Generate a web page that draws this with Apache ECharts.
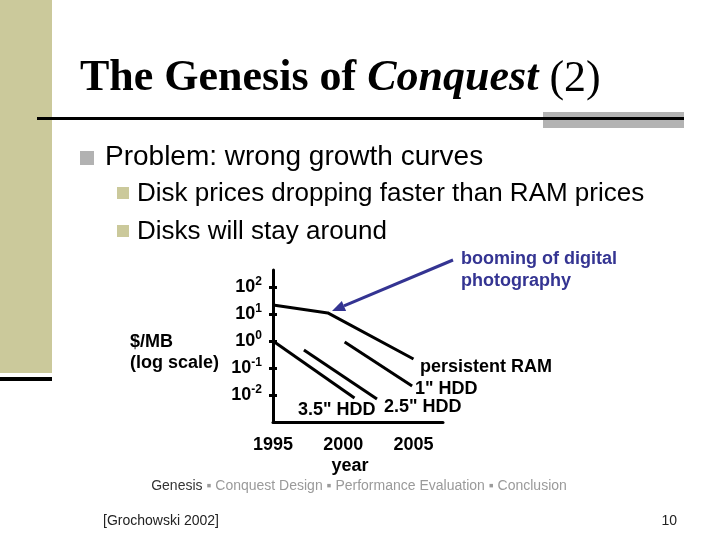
<!DOCTYPE html>
<html><head><meta charset="utf-8">
<script src="https://cdn.jsdelivr.net/npm/echarts@6/dist/echarts.min.js"></script>
<style>html,body{margin:0;padding:0;background:#fff}#c{width:720px;height:540px}</style>
</head><body><div id="c"></div>
<script>
// ---- data ----
const xTicks = [1995, 2000, 2005];
const yTickValues = [0.01, 0.1, 1, 10, 100];
const persistentRAM = [[1995, 21.5], [1998.9, 11], [2005, 0.215]];
const hdd1 = [[2000.1, 0.92], [2004.9, 0.0215]];
const hdd25 = [[1997.2, 0.46], [2002.4, 0.0071]];
const hdd35 = [[1995, 1.0], [2000.8, 0.0078]];
const seriesNames = ['persistent RAM', '1" HDD', '2.5" HDD', '3.5" HDD'];

const SANS = '"Liberation Sans", Arial, sans-serif';
const SERIF = '"Liberation Serif", "Times New Roman", serif';

const chart = echarts.init(document.getElementById('c'), null, {renderer: 'canvas'});

function lineSeries(name, data) {
  return {
    name: name, type: 'line', data: data, showSymbol: false, symbol: 'none',
    lineStyle: {color: '#000', width: 3}, silent: true, animation: false
  };
}

function supLabel(v) {
  const e = Math.round(Math.log10(v));
  return '{b|10}{s|' + e + '}';
}

const arrowColor = '#343492';
const tip = [332, 311], start = [453, 260];
const dx = tip[0] - start[0], dy = tip[1] - start[1];
const L = Math.sqrt(dx * dx + dy * dy);
const ux = dx / L, uy = dy / L, nx = -uy, ny = ux;
const hl = 13, hw = 5.5;
const base = [tip[0] - hl * ux, tip[1] - hl * uy];
const BF = 18;

const option = {
  backgroundColor: '#fff',
  animation: false,
  grid: {left: 273, right: 277, top: 270, bottom: 118, containLabel: false},
  xAxis: {
    type: 'value', min: 1995, max: 2007.1,
    axisLine: {show: true, lineStyle: {color: '#000', width: 3}},
    axisTick: {show: false},
    splitLine: {show: false},
    axisLabel: {customValues: xTicks, formatter: function (v) { return String(Math.round(v)); },
      color: '#000', fontFamily: SANS, fontWeight: 'bold', fontSize: BF, margin: 14}
  },
  yAxis: [{
    type: 'log', logBase: 10, min: 0.001, max: 427,
    axisLine: {show: true, lineStyle: {color: '#000', width: 3}},
    axisTick: {show: true, customValues: yTickValues, length: 4, lineStyle: {color: '#000', width: 3}},
    splitLine: {show: false},
    axisLabel: {
      customValues: yTickValues, margin: 11, formatter: supLabel,
      rich: {
        b: {fontFamily: SANS, fontWeight: 'bold', fontSize: BF, color: '#000'},
        s: {fontFamily: SANS, fontWeight: 'bold', fontSize: 12, color: '#000', padding: [0, 0, 10, 0]}
      }
    }
  }, {
    type: 'log', logBase: 10, min: 0.001, max: 427, position: 'left',
    axisLine: {show: false},
    axisTick: {show: true, inside: true, customValues: yTickValues, length: 4, lineStyle: {color: '#000', width: 3}},
    axisLabel: {show: false},
    splitLine: {show: false}
  }],
  series: [
    lineSeries(seriesNames[0], persistentRAM),
    lineSeries(seriesNames[1], hdd1),
    lineSeries(seriesNames[2], hdd25),
    lineSeries(seriesNames[3], hdd35)
  ],
  graphic: [
    // left olive bar
    {type: 'rect', shape: {x: 0, y: 0, width: 52, height: 373}, style: {fill: '#cbc99b'}, silent: true},
    {type: 'rect', shape: {x: 0, y: 377, width: 52, height: 4}, style: {fill: '#000'}, silent: true},
    // title underline
    {type: 'rect', shape: {x: 543, y: 112, width: 141, height: 16}, style: {fill: '#b3b3b3'}, silent: true},
    {type: 'rect', shape: {x: 37, y: 117, width: 647, height: 3}, style: {fill: '#000'}, silent: true},
    // title
    {type: 'text', left: 80, top: 57, silent: true, style: {
      text: '{n|The Genesis of }{i|Conquest}{r| (2)}',
      rich: {
        n: {fontFamily: SERIF, fontWeight: 'bold', fontSize: 44, fill: '#000'},
        i: {fontFamily: SERIF, fontWeight: 'bold', fontStyle: 'italic', fontSize: 44, fill: '#000'},
        r: {fontFamily: SERIF, fontSize: 44, fill: '#000'}
      }
    }},
    // bullets
    {type: 'rect', shape: {x: 80, y: 151, width: 14, height: 14}, style: {fill: '#b2b2b2'}, silent: true},
    {type: 'text', x: 105, y: 157, silent: true, style: {text: 'Problem: wrong growth curves', fontFamily: SANS, fontSize: 28, fill: '#000', textVerticalAlign: 'middle'}},
    {type: 'rect', shape: {x: 117, y: 187, width: 12, height: 12}, style: {fill: '#cbc99b'}, silent: true},
    {type: 'text', x: 137, y: 194, silent: true, style: {text: 'Disk prices dropping faster than RAM prices', fontFamily: SANS, fontSize: 26, fill: '#000', textVerticalAlign: 'middle'}},
    {type: 'rect', shape: {x: 117, y: 225, width: 12, height: 12}, style: {fill: '#cbc99b'}, silent: true},
    {type: 'text', x: 137, y: 232, silent: true, style: {text: 'Disks will stay around', fontFamily: SANS, fontSize: 26, fill: '#000', textVerticalAlign: 'middle'}},
    // axis names
    {type: 'text', x: 130, y: 332, silent: true, style: {text: '$/MB\n(log scale)', fontFamily: SANS, fontWeight: 'bold', fontSize: BF, lineHeight: 21, fill: '#000'}},
    {type: 'text', x: 350, y: 466, silent: true, style: {text: 'year', fontFamily: SANS, fontWeight: 'bold', fontSize: BF, fill: '#000', textAlign: 'center', textVerticalAlign: 'middle'}},
    // series labels
    {type: 'text', x: 420, y: 367, silent: true, style: {text: seriesNames[0], fontFamily: SANS, fontWeight: 'bold', fontSize: BF, fill: '#000', textVerticalAlign: 'middle'}},
    {type: 'text', x: 415, y: 389, silent: true, style: {text: seriesNames[1], fontFamily: SANS, fontWeight: 'bold', fontSize: BF, fill: '#000', textVerticalAlign: 'middle'}},
    {type: 'text', x: 384, y: 407, silent: true, style: {text: seriesNames[2], fontFamily: SANS, fontWeight: 'bold', fontSize: BF, fill: '#000', textVerticalAlign: 'middle'}},
    {type: 'text', x: 298, y: 410, silent: true, style: {text: seriesNames[3], fontFamily: SANS, fontWeight: 'bold', fontSize: BF, fill: '#000', textVerticalAlign: 'middle'}},
    // annotation
    {type: 'text', x: 461, y: 248, silent: true, style: {text: 'booming of digital\nphotography', fontFamily: SANS, fontWeight: 'bold', fontSize: BF, lineHeight: 22, fill: arrowColor}},
    {type: 'line', silent: true, shape: {x1: start[0], y1: start[1], x2: base[0], y2: base[1]}, style: {stroke: arrowColor, lineWidth: 3}},
    {type: 'polygon', silent: true, shape: {points: [tip, [base[0] + hw * nx, base[1] + hw * ny], [base[0] - hw * nx, base[1] - hw * ny]]}, style: {fill: arrowColor}},
    // footer
    {type: 'text', x: 359, y: 486, silent: true, style: {
      text: '{a|Genesis}{c| ▪ Conquest Design ▪ Performance Evaluation ▪ Conclusion}',
      textAlign: 'center', textVerticalAlign: 'middle',
      rich: {
        a: {fontFamily: SANS, fontSize: 14, fill: '#333'},
        c: {fontFamily: SANS, fontSize: 14, fill: '#9a9a9a'}
      }
    }},
    {type: 'text', x: 103, y: 521, silent: true, style: {text: '[Grochowski 2002]', fontFamily: SANS, fontSize: 14, fill: '#222', textVerticalAlign: 'middle'}},
    {type: 'text', x: 677, y: 521, silent: true, style: {text: '10', fontFamily: SANS, fontSize: 14, fill: '#222', textAlign: 'right', textVerticalAlign: 'middle'}}
  ]
};
chart.setOption(option);
</script></body></html>
